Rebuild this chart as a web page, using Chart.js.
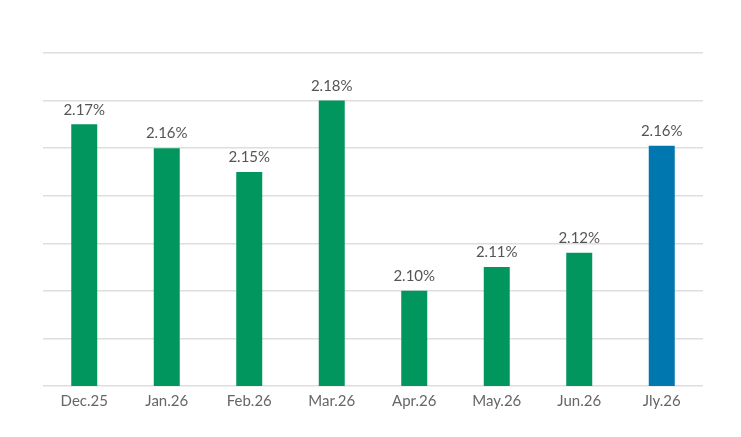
<!DOCTYPE html>
<html>
<head>
<meta charset="utf-8">
<script src="https://cdn.jsdelivr.net/npm/chart.js@4"></script>
<style>
  html, body { margin: 0; padding: 0; background: #fff; }
  #wrap { width: 741px; height: 437px; }
</style>
</head>
<body>
<div id="wrap"><canvas id="rateChart" width="741" height="437"></canvas></div>
<script>
const months = ['Dec.25', 'Jan.26', 'Feb.26', 'Mar.26', 'Apr.26', 'May.26', 'Jun.26', 'Jly.26'];
const rates = [2.17, 2.16, 2.15, 2.18, 2.10, 2.11, 2.116, 2.161];
const rateLabels = ['2.17%', '2.16%', '2.15%', '2.18%', '2.10%', '2.11%', '2.12%', '2.16%'];
const barColors = ['#00965e', '#00965e', '#00965e', '#00965e', '#00965e', '#00965e', '#00965e', '#0077ae'];

// value labels above each bar
const barLabels = {
  id: 'barLabels',
  afterDatasetsDraw(chart) {
    const ctx = chart.ctx;
    const meta = chart.getDatasetMeta(0);
    ctx.save();
    ctx.font = '15px Lato';
    ctx.fillStyle = '#555';
    ctx.textAlign = 'center';
    ctx.textBaseline = 'bottom';
    meta.data.forEach((bar, i) => {
      ctx.fillText(rateLabels[i], bar.x, bar.y - 7);
    });
    ctx.restore();
  }
};

const config = {
  type: 'bar',
  data: {
    labels: months,
    datasets: [{
      data: rates,
      backgroundColor: barColors,
      borderWidth: 0,
      categoryPercentage: 1,
      barPercentage: 0.315
    }]
  },
  options: {
    responsive: false,
    animation: false,
    layout: {
      padding: { left: 43, right: 38, top: 53, bottom: 21 }
    },
    plugins: {
      legend: { display: false },
      tooltip: { enabled: false }
    },
    scales: {
      x: {
        grid: { display: false, drawTicks: false },
        border: { display: false },
        ticks: {
          color: '#666',
          padding: 6,
          font: { family: 'Lato', size: 15 }
        }
      },
      y: {
        min: 2.06,
        max: 2.20,
        ticks: { display: false, stepSize: 0.02 },
        border: { display: false },
        grid: { color: '#dedede', lineWidth: 1.5, drawTicks: false }
      }
    }
  },
  plugins: [barLabels]
};

new Chart(document.getElementById('rateChart').getContext('2d'), config);
</script>
</body>
</html>
